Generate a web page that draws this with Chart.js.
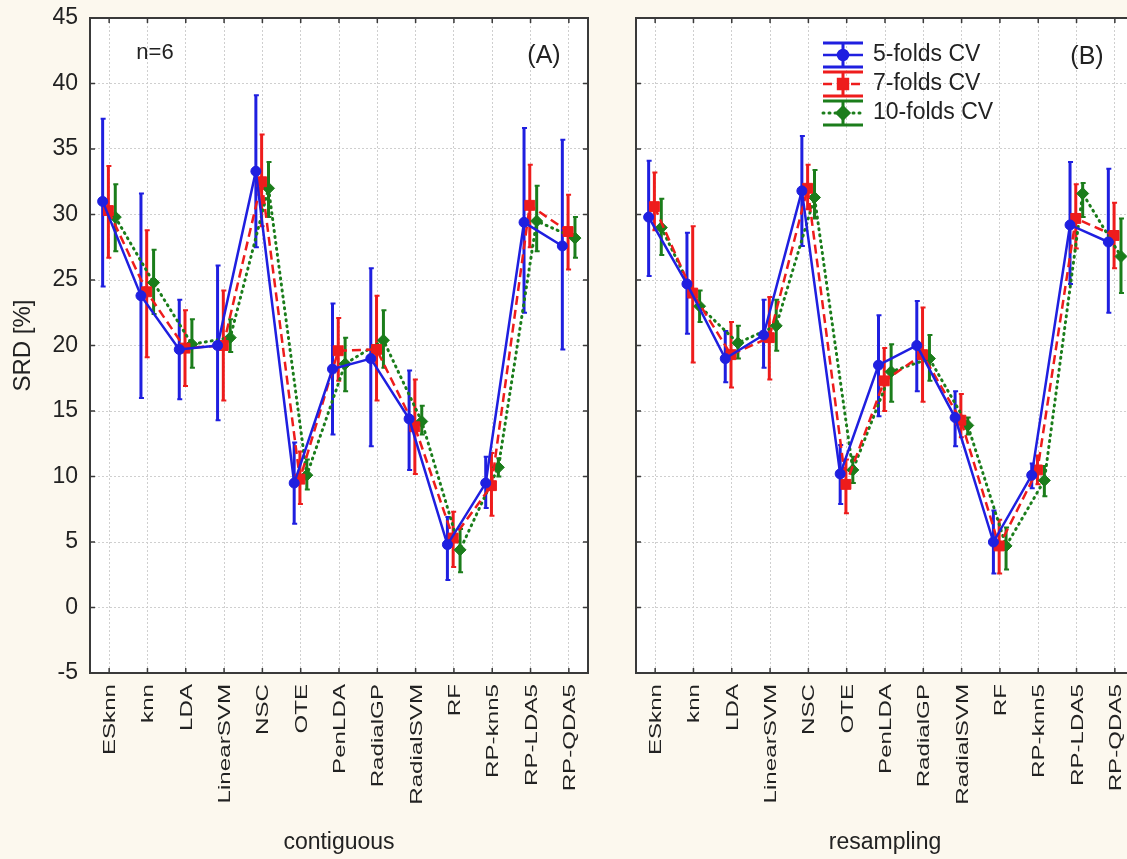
<!DOCTYPE html>
<html>
<head>
<meta charset="utf-8">
<script src="https://cdn.jsdelivr.net/npm/chart.js@4.4.0/dist/chart.umd.min.js"></script>
<style>
  html, body { margin: 0; padding: 0; background: #fcf8ee; overflow: hidden; width: 1127px; height: 859px; }
  #wrap { position: relative; width: 1127px; height: 859px; overflow: hidden; }
  canvas { position: absolute; top: 0; }
  #left { left: 0; }
  #right { left: 600px; }
</style>
</head>
<body>
<div id="wrap">
  <canvas id="left" width="600" height="859"></canvas>
  <canvas id="right" width="560" height="859"></canvas>
</div>
<script>
const categories = ['ESknn', 'knn', 'LDA', 'LinearSVM', 'NSC', 'OTE', 'PenLDA', 'RadialGP', 'RadialSVM', 'RF', 'RP-knn5', 'RP-LDA5', 'RP-QDA5'];
const seriesLabels = ['5-folds CV', '7-folds CV', '10-folds CV'];
const yTickValues = [-5, 0, 5, 10, 15, 20, 25, 30, 35, 40, 45];

// (A) contiguous
const contig5   = [31.0, 23.8, 19.7, 20.0, 33.3,  9.5, 18.2, 19.0, 14.4, 4.8,  9.5, 29.4, 27.6];
const contig5Hi = [37.3, 31.6, 23.5, 26.1, 39.1, 12.6, 23.2, 25.9, 18.1, 6.9, 11.5, 36.6, 35.7];
const contig5Lo = [24.5, 16.0, 15.9, 14.3, 27.5,  6.4, 13.2, 12.3, 10.5, 2.1,  7.6, 22.5, 19.7];
const contig7   = [30.3, 24.1, 19.8, 20.0, 32.5,  9.8, 19.6, 19.7, 13.8, 5.3,  9.3, 30.7, 28.7];
const contig7Hi = [33.7, 28.8, 22.7, 24.2, 36.1, 11.9, 22.1, 23.8, 17.4, 7.3, 11.8, 33.8, 31.5];
const contig7Lo = [26.7, 19.1, 16.9, 15.8, 29.1,  7.9, 17.3, 15.8, 10.2, 3.1,  7.0, 27.5, 25.8];
const contig10   = [29.8, 24.8, 20.1, 20.6, 32.0, 10.1, 18.6, 20.4, 14.2, 4.4, 10.7, 29.5, 28.2];
const contig10Hi = [32.3, 27.3, 22.0, 22.0, 34.0, 11.3, 20.6, 22.7, 15.4, 6.0, 11.4, 32.2, 29.8];
const contig10Lo = [27.2, 22.4, 18.3, 19.5, 29.8,  9.0, 16.5, 18.3, 13.2, 2.7, 10.0, 27.2, 26.7];

// (B) resampling
const resamp5   = [29.8, 24.7, 19.0, 20.8, 31.8, 10.2, 18.5, 20.0, 14.5, 5.0, 10.1, 29.2, 27.9];
const resamp5Hi = [34.1, 28.6, 21.1, 23.5, 36.0, 12.4, 22.3, 23.4, 16.5, 7.4, 11.0, 34.0, 33.5];
const resamp5Lo = [25.3, 20.9, 17.2, 18.3, 27.6,  7.9, 14.6, 16.5, 12.3, 2.6,  9.1, 24.7, 22.5];
const resamp7   = [30.6, 24.0, 19.3, 20.6, 32.0,  9.4, 17.3, 19.3, 14.3, 4.7, 10.5, 29.7, 28.4];
const resamp7Hi = [33.2, 29.1, 21.8, 23.7, 33.8, 11.3, 19.8, 22.9, 16.3, 6.7, 11.6, 32.3, 30.9];
const resamp7Lo = [28.8, 18.7, 16.8, 17.4, 30.4,  7.2, 15.0, 15.7, 13.0, 2.6,  9.4, 27.4, 25.9];
const resamp10   = [29.0, 23.0, 20.2, 21.5, 31.3, 10.5, 18.0, 19.0, 13.9, 4.7,  9.7, 31.6, 26.8];
const resamp10Hi = [31.2, 24.2, 21.5, 23.5, 33.4, 11.5, 20.1, 20.8, 14.5, 6.1, 10.8, 32.4, 29.7];
const resamp10Lo = [26.9, 21.8, 19.0, 19.6, 29.7,  9.5, 15.7, 17.3, 13.2, 2.9,  8.5, 29.8, 24.0];

const FONT = "'Liberation Sans', Arial, sans-serif";
const TEXT = '#222';

// line / marker look of each series
const styles = [
  { color: '#1f1fe0', dash: [], width: 2.5, cap: 'butt', point: 'circle', radius: 5, shift: -0.17 },
  { color: '#ee1c1c', dash: [9, 5], width: 2.5, cap: 'butt', point: 'rect', radius: 7, shift: -0.02 },
  { color: '#1b7d1b', dash: [1, 5], width: 3, cap: 'round', point: 'rectRot', radius: 6, shift: 0.16 }
];

function buildSets(means, lows, highs) {
  return means.map((m, s) => {
    const st = styles[s];
    return {
      label: seriesLabels[s],
      data: m.map((v, i) => ({ x: i + st.shift, y: v })),
      errLo: lows[s],
      errHi: highs[s],
      borderColor: st.color,
      backgroundColor: st.color,
      borderWidth: st.width,
      borderDash: st.dash,
      borderCapStyle: st.cap,
      pointStyle: st.point,
      pointRadius: st.radius,
      pointBackgroundColor: st.color,
      pointBorderColor: st.color,
      pointBorderWidth: 1,
      tension: 0,
      fill: false
    };
  });
}

// white plot area
const plotBg = {
  id: 'plotBg',
  beforeDraw(chart) {
    const a = chart.chartArea;
    chart.ctx.save();
    chart.ctx.fillStyle = '#ffffff';
    chart.ctx.fillRect(a.left, a.top, a.right - a.left, a.bottom - a.top);
    chart.ctx.restore();
  }
};

// vertical error bars under the lines
const errorBars = {
  id: 'errorBars',
  beforeDatasetsDraw(chart) {
    const ctx = chart.ctx;
    const y = chart.scales.y;
    ctx.save();
    chart.data.datasets.forEach((ds, d) => {
      const meta = chart.getDatasetMeta(d);
      ctx.strokeStyle = ds.borderColor;
      ctx.setLineDash([]);
      meta.data.forEach((pt, i) => {
        const top = y.getPixelForValue(ds.errHi[i]);
        const bot = y.getPixelForValue(ds.errLo[i]);
        ctx.lineWidth = 3;
        ctx.beginPath();
        ctx.moveTo(pt.x, top);
        ctx.lineTo(pt.x, bot);
        ctx.stroke();
        ctx.lineWidth = 2;
        ctx.beginPath();
        ctx.moveTo(pt.x - 2, top); ctx.lineTo(pt.x + 3, top);
        ctx.moveTo(pt.x - 2, bot); ctx.lineTo(pt.x + 3, bot);
        ctx.stroke();
      });
    });
    ctx.restore();
  }
};

// box frame, inward ticks, rotated category labels, notes
function framePlugin(notes) {
  return {
    id: 'frame',
    afterDraw(chart) {
      const { ctx, chartArea: a } = chart;
      const x = chart.scales.x, y = chart.scales.y;
      ctx.save();
      ctx.strokeStyle = '#3a3a3a';
      ctx.lineWidth = 2;
      ctx.strokeRect(a.left, a.top, a.right - a.left, a.bottom - a.top);
      ctx.lineWidth = 1.5;
      ctx.beginPath();
      yTickValues.forEach(v => {
        const py = y.getPixelForValue(v);
        ctx.moveTo(a.left, py); ctx.lineTo(a.left + 5, py);
        ctx.moveTo(a.right, py); ctx.lineTo(a.right - 5, py);
      });
      categories.forEach((c, i) => {
        const px = x.getPixelForValue(i);
        ctx.moveTo(px, a.top); ctx.lineTo(px, a.top + 5);
        ctx.moveTo(px, a.bottom); ctx.lineTo(px, a.bottom - 5);
      });
      ctx.stroke();

      ctx.fillStyle = TEXT;
      ctx.font = '17px ' + FONT;
      ctx.textAlign = 'right';
      ctx.textBaseline = 'alphabetic';
      categories.forEach((c, i) => {
        const px = x.getPixelForValue(i);
        ctx.save();
        ctx.translate(px, a.bottom + 11);
        ctx.rotate(-Math.PI / 2);
        ctx.scale(1.42, 1);
        ctx.fillText(c, 0, 6);
        ctx.restore();
      });

      ctx.textAlign = 'center';
      ctx.textBaseline = 'middle';
      notes.forEach(n => {
        ctx.font = n.size + 'px ' + FONT;
        ctx.fillText(n.text, n.x, n.y);
      });
      ctx.restore();
    }
  };
}

// legend with error-bar symbols (right panel)
const legendBox = {
  id: 'legendBox',
  afterDraw(chart) {
    const ctx = chart.ctx;
    const cx = 243, tx = 273, rows = [55, 84, 113];
    ctx.save();
    chart.data.datasets.forEach((ds, s) => {
      const st = styles[s];
      const cy = rows[s];
      ctx.strokeStyle = st.color;
      ctx.setLineDash([]);
      ctx.lineWidth = 3;
      ctx.beginPath();
      ctx.moveTo(cx - 20, cy - 12); ctx.lineTo(cx + 20, cy - 12);
      ctx.moveTo(cx - 20, cy + 12); ctx.lineTo(cx + 20, cy + 12);
      ctx.moveTo(cx, cy - 12); ctx.lineTo(cx, cy + 12);
      ctx.stroke();
      ctx.lineWidth = st.width;
      ctx.lineCap = st.cap;
      ctx.setLineDash(st.dash);
      ctx.beginPath();
      ctx.moveTo(cx - 20, cy); ctx.lineTo(cx + 20, cy);
      ctx.stroke();
      ctx.setLineDash([]);
      ctx.lineCap = 'butt';
      ctx.fillStyle = st.color;
      Chart.helpers.drawPoint(ctx, { pointStyle: st.point, radius: st.radius, borderWidth: 1, rotation: 0 }, cx, cy);
      ctx.fill();
      ctx.fillStyle = TEXT;
      ctx.font = '23px ' + FONT;
      ctx.textAlign = 'left';
      ctx.textBaseline = 'middle';
      ctx.fillText(seriesLabels[s], tx, cy);
    });
    ctx.restore();
  }
};

function makePanel(id, sets, axisTitle, showY, yWidth, padRight, notes, extra) {
  return new Chart(document.getElementById(id), {
    type: 'line',
    data: { datasets: sets },
    plugins: [plotBg, errorBars, framePlugin(notes)].concat(extra),
    options: {
      responsive: false,
      animation: false,
      layout: { padding: { left: 0, right: padRight, top: 18, bottom: 0 } },
      plugins: { legend: { display: false }, tooltip: { enabled: false } },
      scales: {
        x: {
          type: 'linear',
          min: -0.5,
          max: categories.length - 0.5,
          afterBuildTicks(scale) { scale.ticks = categories.map((c, i) => ({ value: i })); },
          afterFit(scale) { scale.height = 186; scale.paddingLeft = 0; scale.paddingRight = 0; },
          ticks: { display: false },
          grid: { color: '#cfcfcf', lineWidth: 1, drawTicks: false },
          border: { display: false, dash: [2, 2] },
          title: { display: true, text: axisTitle, color: TEXT, font: { family: FONT, size: 23 }, padding: { top: 0, bottom: 3 } }
        },
        y: {
          min: -5,
          max: 45,
          afterFit(scale) { scale.width = yWidth; scale.paddingTop = 0; scale.paddingBottom = 0; },
          ticks: { display: showY, stepSize: 5, color: TEXT, padding: 12, font: { family: FONT, size: 23 } },
          grid: { color: '#cfcfcf', lineWidth: 1, drawTicks: false },
          border: { display: false, dash: [2, 2] },
          title: { display: showY, text: 'SRD [%]', color: TEXT, font: { family: FONT, size: 24 }, padding: { top: 9, bottom: 0 } }
        }
      }
    }
  });
}

makePanel('left',
  buildSets([contig5, contig7, contig10], [contig5Lo, contig7Lo, contig10Lo], [contig5Hi, contig7Hi, contig10Hi]),
  'contiguous', true, 90, 12,
  [{ text: 'n=6', x: 155, y: 53, size: 22 }, { text: '(A)', x: 544, y: 56, size: 25 }],
  []);

makePanel('right',
  buildSets([resamp5, resamp7, resamp10], [resamp5Lo, resamp7Lo, resamp10Lo], [resamp5Hi, resamp7Hi, resamp10Hi]),
  'resampling', false, 36, 26,
  [{ text: '(B)', x: 487, y: 57, size: 25 }],
  [legendBox]);
</script>
</body>
</html>
